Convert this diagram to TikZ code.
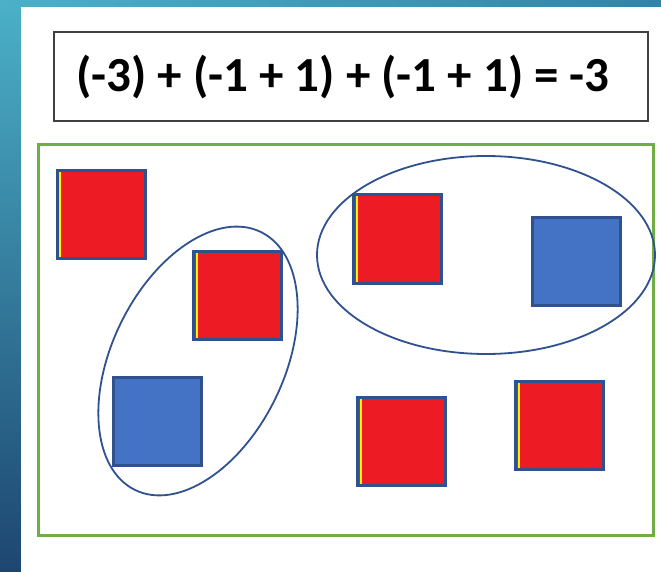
\documentclass[tikz,border=0pt]{standalone}
\usepackage{fontspec}
\setmainfont{Carlito}
\usetikzlibrary{shapes.geometric}
\definecolor{stripTop}{HTML}{4BB0C8}
\definecolor{stripBot}{HTML}{1D4670}
\definecolor{stripRight}{HTML}{3185A6}
\definecolor{sqborder}{HTML}{2F528F}
\definecolor{sqred}{HTML}{ED1C24}
\definecolor{sqblue}{HTML}{4472C4}
\definecolor{sqyellow}{HTML}{FFF200}
\definecolor{framegreen}{HTML}{70AD47}
\definecolor{eqgray}{HTML}{404040}
\tikzset{
  sq/.style={rectangle, draw=sqborder, line width=3, minimum size=88, inner sep=0, outer sep=0},
  redsq/.style={sq, fill=sqred},
  bluesq/.style={sq, fill=sqblue},
  yline/.style={draw=sqyellow, line width=2.2},
  grp/.style={ellipse, draw=sqborder, line width=1.8, inner sep=0, outer sep=0},
  eqframe/.style={rectangle, draw=eqgray, line width=1.5, minimum width=594, minimum height=89, inner sep=0},
  eqtext/.style={font=\bfseries\fontsize{49}{49}\selectfont, inner sep=0},
  gframe/.style={rectangle, draw=framegreen, line width=3, minimum width=615, minimum height=390, inner sep=0}
}
\newcommand{\ymark}[1]{\draw[yline] ([shift={(3.2,1.5)}]#1.north west) -- ([shift={(3.2,-1.5)}]#1.south west);}
\begin{document}
\begin{tikzpicture}[x=1pt,y=-1pt]
\useasboundingbox (0,0) rectangle (661,572);
\shade[top color=stripTop, bottom color=stripBot] (0,0) rectangle (21,572);
\shade[left color=stripTop, right color=stripRight] (0,0) rectangle (661,7);
\fill[white] (21,7) rectangle (661,572);
% equation
\node[eqframe] (eqbox) at (351,76.5) {};
\node[eqtext, anchor=base] (eq) at (343,92) {(-3) + (-1 + 1) + (-1 + 1) = -3};
% frame
\node[gframe] (frame) at (345.5,340) {};
% squares
\node[redsq] (r1) at (101,214.5) {};
\node[redsq] (r2) at (237.5,295.5) {};
\node[bluesq] (b1) at (157.5,421.5) {};
\node[redsq] (r3) at (397.5,239) {};
\node[bluesq] (b2) at (576,261.5) {};
\node[redsq] (r4) at (401.5,441) {};
\node[redsq] (r5) at (559.5,425) {};
\ymark{r1}\ymark{r2}\ymark{r3}\ymark{r4}\ymark{r5}
% groups
\node[grp, minimum width=287, minimum height=172, rotate=64] (g1) at (198,361) {};
\node[grp, minimum width=338, minimum height=198] (g2) at (486,255) {};
\end{tikzpicture}
\end{document}
